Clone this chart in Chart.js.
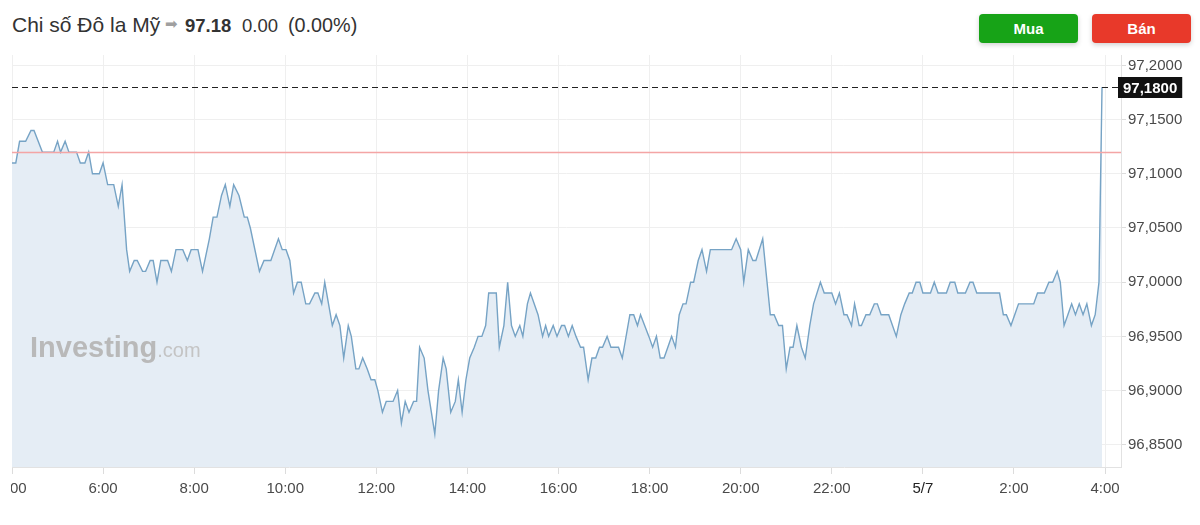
<!DOCTYPE html>
<html>
<head>
<meta charset="utf-8">
<script src="https://cdn.jsdelivr.net/npm/chart.js@4"></script>
<style>
html,body{margin:0;padding:0;background:#fff;width:1200px;height:525px;overflow:hidden;position:relative;font-family:"Liberation Sans",Arial,sans-serif;}
.h{position:absolute;top:13px;line-height:24px;color:#333;white-space:nowrap;}
#h1{left:12px;font-size:21px;}
#h2{left:165px;font-family:"DejaVu Sans",sans-serif;font-size:15px;color:#a0a0a0;top:12px;}
#h3{left:185px;font-size:18.5px;font-weight:bold;top:14px;}
#h4{left:242px;font-size:18.5px;top:14px;}
#h5{left:288px;font-size:19.8px;top:13px;}
.btn{position:absolute;top:14px;width:99px;height:29px;border-radius:4px;color:#fff;font-weight:bold;font-size:15px;text-align:center;line-height:29px;box-shadow:0 2px 5px rgba(0,0,0,0.18);}
#buy{left:979px;background:#17a317;}
#sell{left:1092px;background:#e8392a;}
#wrap{position:absolute;left:11px;top:50px;width:1189px;height:475px;}
#wm{position:absolute;left:30px;top:331px;white-space:nowrap;color:#b9b9b9;pointer-events:none;}
#wm .a{font-weight:bold;font-size:29px;}
#wm .b{font-size:20px;color:#c4c4c4;}
</style>
</head>
<body>
<div class="h" id="h1">Chi số Đô la Mỹ</div>
<div class="h" id="h2">➡</div>
<div class="h" id="h3">97.18</div>
<div class="h" id="h4">0.00</div>
<div class="h" id="h5">(0.00%)</div>
<div class="btn" id="buy">Mua</div>
<div class="btn" id="sell">Bán</div>
<div id="wrap"><canvas id="c" width="1189" height="475"></canvas></div>
<div id="wm"><span class="a">Investing</span><span class="b">.com</span></div>
<script>
// minutes since 4:00 (5/6)
const timeMin = [0,5,10,18,25,29,40,55,60,64,70,75,85,90,96,101,106,115,120,126,134,140,145,151,155,161,165,172,176,182,186,191,196,205,210,216,225,231,236,245,251,260,265,270,276,281,287,292,299,306,310,314,326,332,341,351,356,361,366,371,376,381,387,392,399,403,408,412,417,422,427,432,437,443,447,453,457,462,468,473,478,482,488,493,502,508,513,518,523,529,533,537,543,548,557,562,568,572,578,584,588,593,598,603,609,614,619,624,628,638,642,648,653,658,663,669,673,679,683,693,699,703,707,713,718,724,728,733,738,743,749,753,759,764,769,774,778,784,789,799,804,814,819,824,828,839,844,849,854,859,864,869,874,879,884,888,894,898,904,909,915,920,948,954,960,964,970,976,980,989,999,1004,1010,1015,1020,1025,1029,1034,1040,1045,1051,1056,1065,1070,1080,1085,1090,1096,1100,1106,1110,1116,1119,1125,1130,1136,1140,1145,1155,1165,1171,1176,1182,1186,1191,1196,1200,1210,1215,1220,1231,1236,1242,1246,1256,1262,1266,1271,1301,1306,1310,1316,1321,1326,1346,1351,1360,1366,1371,1377,1381,1386,1391,1396,1401,1406,1411,1416,1422,1427,1432,1436];
const priceVals = [97.11,97.11,97.13,97.13,97.14,97.14,97.12,97.12,97.13,97.12,97.13,97.12,97.12,97.11,97.11,97.12,97.10,97.10,97.11,97.09,97.09,97.07,97.09,97.03,97.01,97.02,97.02,97.01,97.01,97.02,97.02,97.00,97.02,97.02,97.01,97.03,97.03,97.02,97.03,97.03,97.01,97.04,97.06,97.06,97.08,97.09,97.07,97.09,97.08,97.06,97.06,97.05,97.01,97.02,97.02,97.04,97.03,97.03,97.02,96.99,97.00,97.00,96.98,96.98,96.99,96.99,96.98,97.00,96.98,96.96,96.97,96.96,96.93,96.96,96.95,96.92,96.92,96.93,96.92,96.91,96.91,96.90,96.88,96.89,96.89,96.90,96.87,96.89,96.88,96.89,96.89,96.94,96.93,96.90,96.86,96.90,96.93,96.92,96.88,96.89,96.91,96.88,96.91,96.93,96.94,96.95,96.95,96.96,96.99,96.99,96.94,96.96,97.00,96.96,96.95,96.96,96.95,96.98,96.99,96.97,96.95,96.96,96.95,96.96,96.95,96.96,96.96,96.95,96.96,96.95,96.94,96.94,96.91,96.93,96.93,96.94,96.94,96.95,96.94,96.94,96.93,96.97,96.97,96.96,96.97,96.95,96.94,96.95,96.93,96.93,96.94,96.95,96.94,96.97,96.98,96.98,97.00,97.00,97.02,97.03,97.01,97.03,97.03,97.04,97.03,97.00,97.03,97.02,97.02,97.04,96.97,96.97,96.96,96.96,96.92,96.94,96.94,96.96,96.94,96.93,96.96,96.98,97.00,96.99,96.99,96.98,96.99,96.97,96.97,96.96,96.98,96.96,96.96,96.97,96.97,96.98,96.98,96.97,96.97,96.95,96.97,96.98,96.99,96.99,97.00,97.00,96.99,96.99,97.00,96.99,96.99,97.00,97.00,96.99,96.99,97.00,97.00,96.99,96.99,96.97,96.97,96.96,96.97,96.98,96.98,96.99,96.99,97.00,97.00,97.01,97.00,96.96,96.97,96.98,96.97,96.98,96.97,96.98,96.96,96.97,97.00,97.18];

const xTickValues = [0,120,240,360,480,600,720,840,960,1080,1200,1320,1440];
const xTickLabels = ['4:00','6:00','8:00','10:00','12:00','14:00','16:00','18:00','20:00','22:00','5/7','2:00','4:00'];
const yTickValues = [96.85,96.90,96.95,97.00,97.05,97.10,97.15,97.20];
const lastPrice = 97.18;
const prevClose = 97.12;

const FONT = '"Liberation Sans", Arial, sans-serif';
const fmt = v => v.toFixed(4).replace('.', ',');

const refLinesPlugin = {
  id: 'refLines',
  afterDraw(chart) {
    const {ctx, chartArea, scales: {y}} = chart;
    ctx.save();
    const yr = Math.round(y.getPixelForValue(prevClose)) + 0.5;
    ctx.strokeStyle = '#f4a5a5';
    ctx.lineWidth = 1.5;
    ctx.beginPath(); ctx.moveTo(chartArea.left, yr); ctx.lineTo(chartArea.right, yr); ctx.stroke();
    const yl = Math.round(y.getPixelForValue(lastPrice)) + 0.5;
    ctx.strokeStyle = '#222';
    ctx.lineWidth = 1;
    ctx.setLineDash([6, 4]);
    ctx.beginPath(); ctx.moveTo(chartArea.left, yl); ctx.lineTo(chartArea.right - 3, yl); ctx.stroke();
    ctx.setLineDash([]);
    const label = fmt(lastPrice);
    ctx.font = 'bold 15px ' + FONT;
    const w = ctx.measureText(label).width + 10;
    ctx.fillStyle = '#111';
    ctx.fillRect(chartArea.right - 3, yl - 10.5, w, 21);
    ctx.fillStyle = '#fff';
    ctx.textBaseline = 'middle';
    ctx.textAlign = 'left';
    ctx.fillText(label, chartArea.right + 2, yl + 1);
    ctx.restore();
  }
};

new Chart(document.getElementById('c'), {
  type: 'line',
  data: {
    datasets: [{
      data: timeMin.map((t, i) => ({x: t, y: priceVals[i]})),
      borderColor: '#76a3c5',
      borderWidth: 1.4,
      backgroundColor: '#e5edf5',
      fill: 'start',
      pointRadius: 0,
      tension: 0
    }]
  },
  options: {
    responsive: false,
    animation: false,
    devicePixelRatio: 1,
    layout: {padding: {left: 1, right: 0, top: 5, bottom: 21}},
    plugins: {legend: {display: false}, tooltip: {enabled: false}},
    scales: {
      x: {
        type: 'linear', min: 0, max: 1461,
        afterBuildTicks: s => { s.ticks = xTickValues.map(v => ({value: v})); },
        afterFit: s => { s.paddingLeft = 0; s.paddingRight = 0; },
        grid: {color: '#efefef', tickLength: 7, tickColor: '#dcdcdc'},
        border: {color: '#e2e2e2'},
        ticks: {
          maxRotation: 0, autoSkip: false, padding: 6,
          font: {size: 15, family: FONT},
          color: c => (c.tick && c.tick.label === '5/7') ? '#222' : '#4a4a4a',
          callback: v => xTickLabels[xTickValues.indexOf(v)]
        }
      },
      y: {
        position: 'right', min: 96.8295, max: 97.2096,
        afterBuildTicks: s => { s.ticks = yTickValues.map(v => ({value: v})); },
        afterFit: s => { s.width = 79; s.paddingTop = 0; s.paddingBottom = 0; },
        grid: {color: '#efefef', tickLength: 5, tickColor: '#dcdcdc'},
        border: {color: '#e2e2e2'},
        ticks: {
          padding: 2,
          font: {size: 15, family: FONT},
          color: '#4a4a4a',
          callback: v => fmt(v)
        }
      }
    }
  },
  plugins: [refLinesPlugin]
});
</script>
</body>
</html>
